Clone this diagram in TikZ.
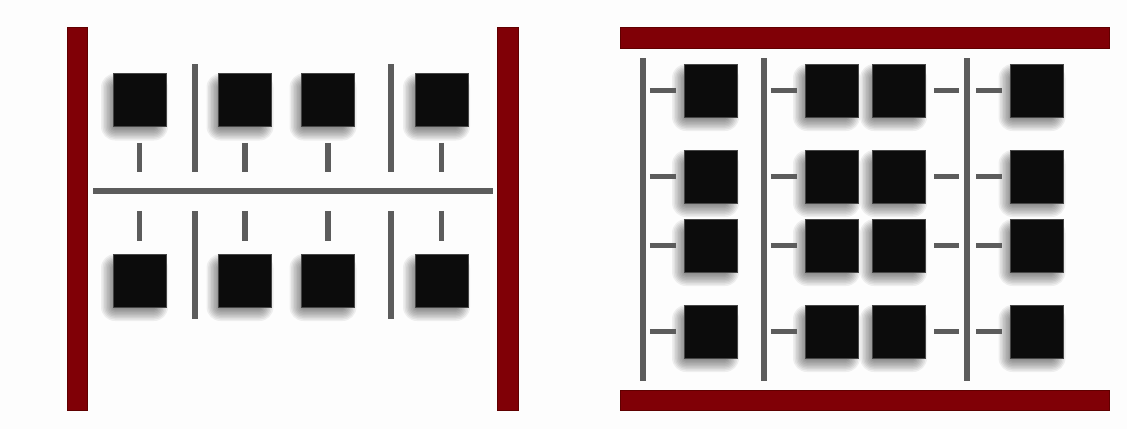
\documentclass[tikz,border=0pt]{standalone}
\usetikzlibrary{calc}
\definecolor{rail}{RGB}{128,0,6}
\definecolor{railedge}{RGB}{96,0,0}
\definecolor{wire}{RGB}{92,92,92}
\definecolor{chip}{RGB}{12,12,12}
\definecolor{chipedge}{RGB}{70,70,70}
\definecolor{paper}{RGB}{253,253,253}
% soft drop shadow under a chip centred at (#1,#2): stacked translucent squares
\newcommand\chipshade[2]{%
  \foreach \e in {7,5.5,4,2.5,1,-0.5,-2,-3.5,-5,-6.5} {
    \fill[black, opacity=0.06, rounded corners={max(\e+7,1)*1pt}]
      ($(#1,#2)+(-5,7)+(-26.5-\e,-26.5-\e)$) rectangle ($(#1,#2)+(-5,7)+(26.5+\e,26.5+\e)$);
  }%
}
\begin{document}
\begin{tikzpicture}[x=1pt,y=-1pt,
  chipbox/.style={draw=chipedge, line width=0.5pt, fill=chip, minimum size=53pt, inner sep=0pt},
  wireline/.style={draw=wire, line width=5.5pt},
  railbar/.style={fill=rail, draw=railedge, line width=0.6pt}]
\useasboundingbox (0,0) rectangle (1127,429);
\fill[paper] (0,0) rectangle (1127,429);

% ---- left assembly: two rails, a central bus, two rows of chips ----
\draw[railbar] (67,27) rectangle (87,410);
\draw[railbar] (497,27) rectangle (518,410);
\draw[wireline] (93,191) -- (493,191);
\foreach \x in {195,391} {
  \draw[wireline] (\x,64) -- (\x,172);
  \draw[wireline] (\x,211) -- (\x,319);
}
\foreach \x [count=\i] in {139.5,245,328,441.5} {
  \chipshade{\x}{100}
  \chipshade{\x}{280.5}
  \node[chipbox] (T\i) at (\x,100) {};
  \node[chipbox] (B\i) at (\x,280.5) {};
  \draw[wireline] ($(T\i.south)+(0,16)$) -- ($(T\i.south)+(0,45)$);
  \draw[wireline] ($(B\i.north)+(0,-43)$) -- ($(B\i.north)+(0,-13)$);
}

% ---- right assembly: top and bottom rails, three vertical buses ----
\draw[railbar] (620,27) rectangle (1109,48);
\draw[railbar] (620,390) rectangle (1109,410);
\foreach \x in {643,764,967} {
  \draw[wireline] (\x,58) -- (\x,381);
}
\foreach \y in {90.5,176.5,245.5,331.5} {
  \foreach \x in {710.5,831.5,898.5,1037} { \chipshade{\x}{\y} }
}
\foreach \y [count=\r] in {90.5,176.5,245.5,331.5} {
  \node[chipbox] (A\r) at (710.5,\y) {};
  \node[chipbox] (M\r) at (831.5,\y) {};
  \node[chipbox] (N\r) at (898.5,\y) {};
  \node[chipbox] (D\r) at (1037,\y) {};
  \draw[wireline] ($(A\r.west)+(-34,0)$) -- ($(A\r.west)+(-8,0)$);
  \draw[wireline] ($(M\r.west)+(-34,0)$) -- ($(M\r.west)+(-8,0)$);
  \draw[wireline] ($(N\r.east)+(9,0)$) -- ($(N\r.east)+(34,0)$);
  \draw[wireline] ($(D\r.west)+(-34,0)$) -- ($(D\r.west)+(-8,0)$);
}
\end{tikzpicture}
\end{document}
